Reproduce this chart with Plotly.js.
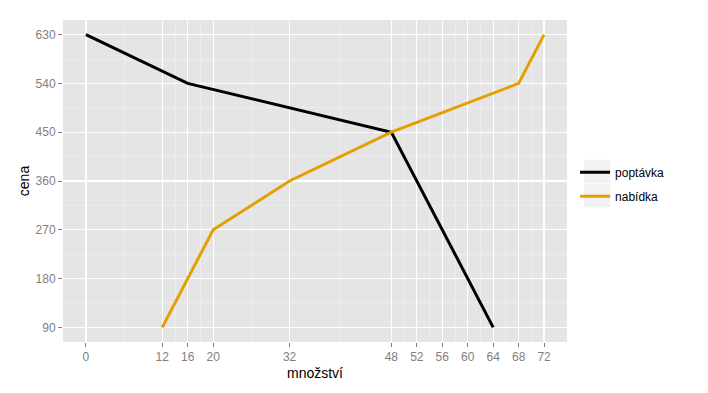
<!DOCTYPE html>
<html><head><meta charset="utf-8">
<script src="https://cdn.plot.ly/plotly-3.0.1.min.js"></script>
<style>html,body{margin:0;padding:0;background:#fff}#chart{width:708px;height:393px}</style>
</head><body><div id="chart"></div>
<script>
const demandQty = [0, 16, 48, 64];
const demandPrice = [630, 540, 450, 90];
const supplyQty = [12, 20, 32, 48, 68, 72];
const supplyPrice = [90, 270, 360, 450, 540, 630];
const xTicks = [0, 12, 16, 20, 32, 48, 52, 56, 60, 64, 68, 72];
const xMinor = [6, 14, 18, 26, 40, 50, 54, 58, 62, 66, 70];
const yTicks = [90, 180, 270, 360, 450, 540, 630];
const yMinor = [135, 225, 315, 405, 495, 585];
const seriesNames = ['poptávka', 'nabídka'];

const traces = [
  {x: demandQty, y: demandPrice, name: seriesNames[0], legendgroup: 'a', mode: 'lines', line: {color: '#000000', width: 3}},
  {x: supplyQty, y: supplyPrice, name: seriesNames[1], legendgroup: 'b', mode: 'lines', line: {color: '#E69F00', width: 3}}
];
const font = 'Liberation Sans, Arial, sans-serif';
const layout = {
  width: 708, height: 393,
  margin: {l: 63, r: 141, t: 20, b: 51},
  paper_bgcolor: '#ffffff', plot_bgcolor: '#e5e5e5',
  font: {family: font},
  showlegend: true,
  legend: {x: 1.016, xanchor: 'left', y: 0.49, yanchor: 'middle', font: {size: 12, color: '#000'}, bgcolor: 'rgba(0,0,0,0)', tracegroupgap: 5, traceorder: 'grouped'},
  shapes: [
    {type: 'rect', xref: 'paper', yref: 'paper', x0: 1.034, x1: 1.086, y0: 0.493, y1: 0.566, fillcolor: '#f2f2f2', line: {width: 0}, layer: 'below'},
    {type: 'rect', xref: 'paper', yref: 'paper', x0: 1.034, x1: 1.086, y0: 0.418, y1: 0.491, fillcolor: '#f2f2f2', line: {width: 0}, layer: 'below'}
  ],
  xaxis: {
    range: [-3.6, 75.6], tickmode: 'array', tickvals: xTicks, ticktext: xTicks.map(String),
    showgrid: true, gridcolor: '#ffffff', gridwidth: 1.2, zeroline: false,
    ticks: 'outside', ticklen: 4, tickcolor: '#7f7f7f', tickwidth: 1,
    tickfont: {size: 12, color: '#7f7f7f', family: font},
    minor: {tickmode: 'array', tickvals: xMinor, showgrid: true, gridcolor: '#f2f2f2', gridwidth: 0.6, ticks: ''},
    title: {text: 'množství', font: {size: 14, color: '#000', family: font}, standoff: 4},
    showline: false
  },
  yaxis: {
    range: [63, 657], tickmode: 'array', tickvals: yTicks, ticktext: yTicks.map(String),
    showgrid: true, gridcolor: '#ffffff', gridwidth: 1.2, zeroline: false,
    ticks: 'outside', ticklen: 4, tickcolor: '#7f7f7f', tickwidth: 1,
    tickfont: {size: 12, color: '#7f7f7f', family: font},
    minor: {tickmode: 'array', tickvals: yMinor, showgrid: true, gridcolor: '#f2f2f2', gridwidth: 0.6, ticks: ''},
    title: {text: 'cena', font: {size: 14, color: '#000', family: font}, standoff: 2},
    showline: false
  }
};
Plotly.newPlot('chart', traces, layout, {displayModeBar: false, staticPlot: true});
</script></body></html>
